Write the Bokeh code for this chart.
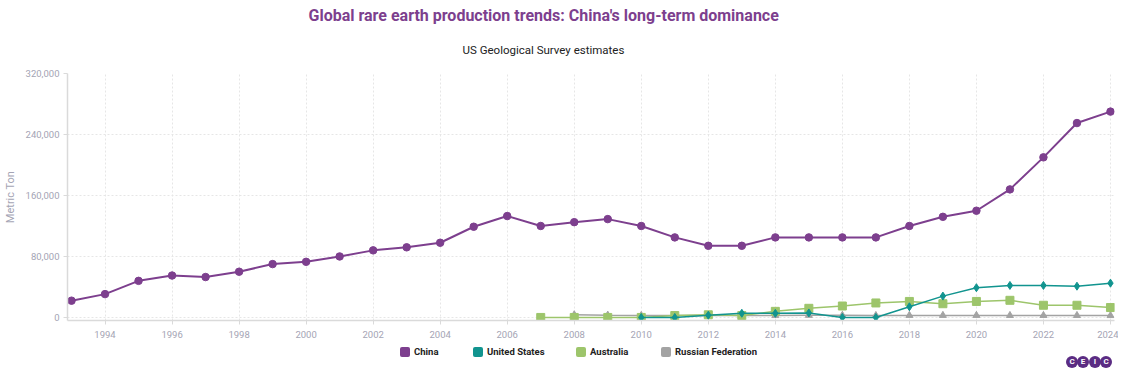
from bokeh.plotting import figure
from bokeh.layouts import column
from bokeh.models import (ColumnDataSource, Title, NumeralTickFormatter,
                          FixedTicker, Range1d, Div)
from bokeh.embed import file_html
from bokeh.resources import INLINE

# ---------------- data ----------------
years_china = list(range(1993, 2025))
china = [22000, 30600, 48000, 55000, 53000, 60000, 70000, 73000, 80000, 88000,
         92000, 98000, 119000, 133000, 120000, 125000, 129000, 120000, 105000, 94000,
         94000, 105000, 105000, 105000, 105000, 120000, 132000, 140000, 168000, 210000,
         255000, 270000]

years_us = list(range(2010, 2025))
us = [0, 0, 3000, 5500, 5400, 5900, 0, 0, 14000, 28000, 39000, 42000, 42000, 41000, 45000]

years_aus = list(range(2007, 2025))
aus = [0, 0, 0, 0, 2500, 3500, 2500, 8000, 12000, 15000, 19000, 21000, 18000, 21000,
       22500, 16000, 16000, 13000]

years_rus = list(range(2008, 2025))
rus = [3500, 3000, 2600, 2600, 2600, 2600, 2500, 2800, 2800, 2600, 2700, 2700, 2700,
       2600, 2600, 2600, 2500]

series_names = ["China", "United States", "Australia", "Russian Federation"]
x_ticks = list(range(1994, 2025, 2))
y_ticks = [0, 80000, 160000, 240000, 320000]

title_text = "Global rare earth production trends: China's long-term dominance"
subtitle_text = "US Geological Survey estimates"
y_label = "Metric Ton"
logo_letters = ["C", "E", "I", "C"]

# ---------------- style ----------------
C_CHINA = "#7D3F8E"
C_US = "#11948F"
C_AUS = "#9DC56B"
C_RUS = "#A3A3A3"
TICK_C = "#A4A4B4"
FONT = "Roboto"
W = 1118

p = figure(width=W, height=344, output_backend="svg", toolbar_location=None,
           x_range=Range1d(1992.88, 2024.12), y_range=Range1d(-4000, 320000),
           min_border_left=66, min_border_right=4, min_border_top=73,
           min_border_bottom=24)
p.outline_line_color = None

# titles
sub = Title(text=subtitle_text, align="left", text_font=FONT, text_font_size="11.5px",
            text_font_style="normal", text_color="#222222", standoff=33, offset=395)
p.add_layout(sub, "above")
main = Title(text=title_text, align="left", text_font=FONT, text_font_size="16px",
             text_font_style="bold", text_color=C_CHINA, standoff=0, offset=241)
p.add_layout(main, "above")

# axes
p.xaxis.ticker = FixedTicker(ticks=x_ticks)
p.yaxis.ticker = FixedTicker(ticks=y_ticks)
p.yaxis.formatter = NumeralTickFormatter(format="0,0")
for ax in (p.xaxis, p.yaxis):
    ax.axis_line_color = "#DADADA"
    ax.axis_line_width = 1.5
    ax.major_tick_line_color = "#DADADA"
    ax.major_tick_out = 4
    ax.major_tick_in = 0
    ax.minor_tick_line_color = None
    ax.major_label_text_font = FONT
    ax.major_label_text_font_size = "9.5px"
    ax.major_label_text_color = TICK_C
p.xaxis.major_label_standoff = 6
p.yaxis.major_label_standoff = 4
p.yaxis.axis_label = y_label
p.yaxis.axis_label_text_font = FONT
p.yaxis.axis_label_text_font_size = "11px"
p.yaxis.axis_label_text_font_style = "normal"
p.yaxis.axis_label_text_color = TICK_C
p.yaxis.axis_label_standoff = 6

p.xgrid.grid_line_color = "#E6E6E6"
p.ygrid.grid_line_color = "#E6E6E6"
p.xgrid.grid_line_dash = "2 2"
p.ygrid.grid_line_dash = "2 2"

# series
src_rus = ColumnDataSource(dict(x=years_rus, y=rus))
src_aus = ColumnDataSource(dict(x=years_aus, y=aus))
src_us = ColumnDataSource(dict(x=years_us, y=us))
src_cn = ColumnDataSource(dict(x=years_china, y=china))

p.line("x", "y", source=src_rus, line_color=C_RUS, line_width=1.5)
p.scatter("x", "y", source=src_rus, marker="triangle", size=7, color=C_RUS)
p.line("x", "y", source=src_aus, line_color=C_AUS, line_width=1.5)
p.scatter("x", "y", source=src_aus, marker="square", size=8, color=C_AUS)
p.line("x", "y", source=src_us, line_color=C_US, line_width=1.5)
p.scatter("x", "y", source=src_us, marker="diamond", size=8, color=C_US)
p.line("x", "y", source=src_cn, line_color=C_CHINA, line_width=2)
p.scatter("x", "y", source=src_cn, marker="circle", size=7.5, color=C_CHINA)

# ---------------- legend strip (HTML, below the plot) ----------------
swatch_left = [400, 473, 576, 661]
parts = ['<div style="position:relative;width:%dpx;height:27px;font-family:Roboto,sans-serif;">' % W]
for name, col, x0 in zip(series_names, [C_CHINA, C_US, C_AUS, C_RUS], swatch_left):
    parts.append('<span style="position:absolute;left:%dpx;top:3px;width:10px;height:10px;'
                 'background:%s;border-radius:2px;"></span>' % (x0, col))
    parts.append('<span style="position:absolute;left:%dpx;top:1px;font-size:9.5px;'
                 'font-weight:bold;line-height:14px;color:#222222;white-space:nowrap;">%s</span>'
                 % (x0 + 14, name))
for i, ch in enumerate(logo_letters):
    parts.append('<span style="position:absolute;left:%dpx;top:12px;width:12px;height:12px;'
                 'border-radius:50%%;background:#5B2C83;color:white;font-size:8px;'
                 'font-weight:bold;line-height:12px;text-align:center;">%s</span>'
                 % (1066 + 11.5 * i, ch))
parts.append('</div>')
legend_div = Div(text="".join(parts), width=W, height=27, margin=0)

layout = column(p, legend_div, spacing=0)
open("out.html", "w").write(file_html(layout, INLINE))
